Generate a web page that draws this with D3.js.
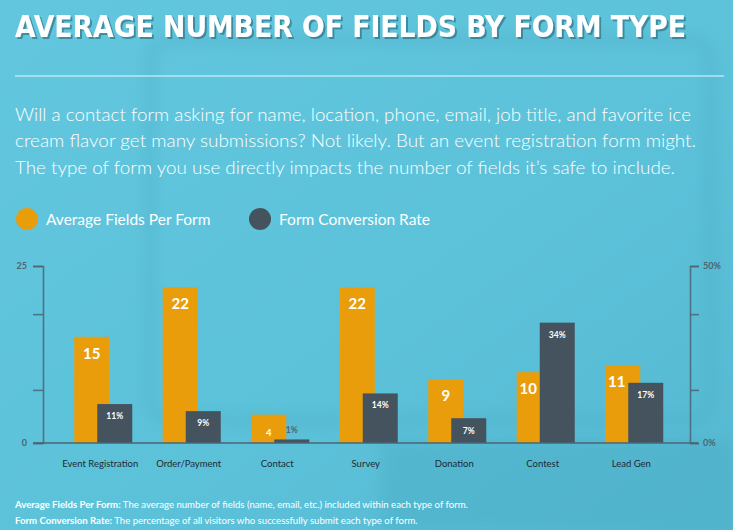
<!DOCTYPE html>
<html>
<head>
<meta charset="utf-8">
<script src="https://cdn.jsdelivr.net/npm/d3@7"></script>
<style>
  html, body { margin: 0; padding: 0; background: #5cc3db; }
  svg { display: block; }
</style>
</head>
<body>
<svg id="chart" width="733" height="530"></svg>
<script>
// ---- data ----
const categories = ["Event Registration", "Order/Payment", "Contact", "Survey", "Donation", "Contest", "Lead Gen"];
const avgFields = [15, 22, 4, 22, 9, 10, 11];
const conversionRate = [11, 9, 1, 14, 7, 34, 17];
const leftTickValues = [0, 7.5, 18.2, 25];
const leftTickLabels = { 0: "0", 25: "25" };
const rightTickValues = [0, 15, 36.4, 50];
const rightTickLabels = { 0: "0%", 50: "50%" };
const seriesNames = ["Average Fields Per Form", "Form Conversion Rate"];
const titleText = "AVERAGE NUMBER OF FIELDS BY FORM TYPE";
const introLines = [
  "Will a contact form asking for name, location, phone, email, job title, and favorite ice",
  "cream flavor get many submissions? Not likely. But an event registration form might.",
  "The type of form you use directly impacts the number of fields it\u2019s safe to include."
];
const footnotes = [
  ["Average Fields Per Form:", " The average number of fields (name, email, etc.) included within each type of form."],
  ["Form Conversion Rate:", " The percentage of all visitors who successfully submit each type of form."]
];

// ---- style ----
const ORANGE = "#ea9d0a";
const DARK = "#45535e";
const AXIS = "#4d6472";
const FONT = "Lato, 'Open Sans', sans-serif";

const svg = d3.select("#chart");
const W = 733, H = 530;

// background
const defs = svg.append("defs");
const bg = defs.append("linearGradient").attr("id", "bg").attr("x1", 0).attr("y1", 0).attr("x2", 1).attr("y2", 1);
bg.append("stop").attr("offset", "0%").attr("stop-color", "#62c7de");
bg.append("stop").attr("offset", "55%").attr("stop-color", "#5cc2da");
bg.append("stop").attr("offset", "100%").attr("stop-color", "#55b8d1");
svg.append("rect").attr("width", W).attr("height", H).attr("fill", "url(#bg)");
const blur = defs.append("filter").attr("id", "blur").attr("x", "-20%").attr("y", "-20%").attr("width", "140%").attr("height", "140%");
blur.append("feGaussianBlur").attr("stdDeviation", 6);
svg.append("rect").attr("x", 150).attr("y", 40).attr("width", 560).attr("height", 380).attr("rx", 20)
  .attr("fill", "none").attr("stroke", "#4fb0c9").attr("stroke-width", 14).attr("opacity", 0.35).attr("filter", "url(#blur)");
svg.append("rect").attr("x", 380).attr("y", 440).attr("width", 353).attr("height", 90)
  .attr("fill", "#4aaac3").attr("opacity", 0.35).attr("filter", "url(#blur)");

// title shadow filter
const sh = defs.append("filter").attr("id", "tshadow").attr("x", "-5%").attr("y", "-30%").attr("width", "110%").attr("height", "160%");
sh.append("feDropShadow").attr("dx", 2).attr("dy", 2).attr("stdDeviation", 0.6)
  .attr("flood-color", "#1e4658").attr("flood-opacity", 0.45);

svg.append("text").attr("x", 15).attr("y", 36.5).text(titleText)
  .attr("font-family", "'DejaVu Sans Condensed', 'Liberation Sans Narrow', sans-serif")
  .attr("font-weight", "bold").attr("font-size", 30).attr("fill", "#ffffff")
  .attr("textLength", 671).attr("lengthAdjust", "spacingAndGlyphs")
  .attr("filter", "url(#tshadow)");

// separator
svg.append("line").attr("x1", 15).attr("x2", 724).attr("y1", 76).attr("y2", 76)
  .attr("stroke", "#eaf8fc").attr("stroke-width", 1.2);

// intro
const introLengths = [676, 681, 660];
svg.append("g").selectAll("text").data(introLines).join("text")
  .attr("x", 15).attr("y", (d, i) => 120.5 + i * 26.8)
  .attr("font-family", FONT).attr("font-weight", 300).attr("font-size", 18.5)
  .attr("fill", "#ffffff")
  .attr("textLength", (d, i) => introLengths[i]).attr("lengthAdjust", "spacingAndGlyphs")
  .text(d => d);

// legend
const legendColors = [ORANGE, DARK];
const legendX = [27, 260];
const lg = svg.append("g").selectAll("g").data(seriesNames).join("g")
  .attr("transform", (d, i) => `translate(${legendX[i]},219)`);
lg.append("circle").attr("r", 11).attr("fill", (d, i) => legendColors[i]);
lg.append("text").attr("x", 19).attr("y", 5.5).attr("font-family", FONT).attr("font-size", 15.5)
  .attr("fill", "#ffffff").text(d => d);

// scales
const y0 = 443, yTop = 266;
const x = d3.scaleBand().domain(categories).range([59, 678.5]).padding(0);
const yL = d3.scaleLinear().domain([0, 25]).range([y0, yTop]);
const yR = d3.scaleLinear().domain([0, 50]).range([y0, yTop]);
const barW = 35, offsetO = -29, offsetD = -6;
const cx = c => x(c) + x.bandwidth() / 2;

// axes
const leftAxis = d3.axisLeft(yL).tickValues(leftTickValues).tickSize(10)
  .tickFormat(d => leftTickLabels[d] || "");
const gl = svg.append("g").attr("transform", "translate(43,0)").call(leftAxis);
const rightAxis = d3.axisRight(yR).tickValues(rightTickValues).tickSize(9)
  .tickFormat(d => rightTickLabels[d] || "");
const gr = svg.append("g").attr("transform", "translate(690,0)").call(rightAxis);
[gl, gr].forEach(g => {
  g.select(".domain").attr("stroke", AXIS).attr("stroke-width", 1.6).attr("opacity", 0.85);
  g.selectAll(".tick line").attr("stroke", AXIS).attr("stroke-width", 1.6).attr("opacity", 0.85);
  g.selectAll(".tick text").attr("font-family", FONT).attr("font-weight", "bold")
    .attr("font-size", 9).attr("fill", AXIS);
});
gl.selectAll(".tick text").attr("x", -16);
gr.selectAll(".tick text").attr("x", 13);

const data = categories.map((c, i) => ({ c, f: avgFields[i], r: conversionRate[i] }));

// orange bars
svg.append("g").selectAll("rect").data(data).join("rect")
  .attr("x", d => cx(d.c) + offsetO).attr("width", barW)
  .attr("y", d => yL(d.f)).attr("height", d => y0 - yL(d.f))
  .attr("fill", ORANGE);
// dark bars
svg.append("g").selectAll("rect").data(data).join("rect")
  .attr("x", d => cx(d.c) + offsetD).attr("width", barW)
  .attr("y", d => yR(d.r)).attr("height", d => y0 - yR(d.r))
  .attr("fill", DARK);

// baseline
svg.append("line").attr("x1", 33).attr("x2", 698).attr("y1", y0).attr("y2", y0)
  .attr("stroke", "#4a6575").attr("stroke-width", 2).attr("opacity", 0.75);

// orange labels
const small = d => (y0 - yL(d.f)) < 40;
const orangeLabelY = d => {
  const h = y0 - yL(d.f);
  return small(d) ? yL(d.f) + h / 2 + 7 : yL(d.f) + 22;
};
svg.append("g").selectAll("text").data(data).join("text")
  .attr("x", d => {
    const ox = cx(d.c) + offsetO;
    // centre in the visible part of the orange bar if the dark bar reaches the label
    return (!small(d) && yR(d.r) < orangeLabelY(d) + 3) ? ox + (offsetD - offsetO) / 2 : ox + barW / 2;
  })
  .attr("y", orangeLabelY)
  .attr("text-anchor", "middle").attr("font-family", FONT).attr("font-weight", "bold")
  .attr("font-size", d => small(d) ? 9.5 : 15).attr("fill", "#ffffff")
  .text(d => d.f);

// dark labels
svg.append("g").selectAll("text").data(data).join("text")
  .attr("x", d => cx(d.c) + offsetD + barW / 2)
  .attr("y", d => {
    const h = y0 - yR(d.r);
    if (h < 10) return yR(d.r) - 6;
    return h < 30 ? yR(d.r) + h / 2 + 3.5 : yR(d.r) + 15;
  })
  .attr("text-anchor", "middle").attr("font-family", FONT).attr("font-weight", "bold")
  .attr("font-size", 8.5)
  .attr("fill", d => (y0 - yR(d.r)) < 10 ? "#4d6472" : "#ffffff")
  .text(d => d.r + "%");

// category labels
svg.append("g").selectAll("text").data(categories).join("text")
  .attr("x", d => cx(d) - 3).attr("y", 467)
  .attr("text-anchor", "middle").attr("font-family", FONT).attr("font-size", 9.5)
  .attr("fill", "#1c2a35").text(d => d);

// footnotes
const fn = svg.append("g").selectAll("text").data(footnotes).join("text")
  .attr("x", 15).attr("y", (d, i) => 507.5 + i * 16.8)
  .attr("font-family", FONT).attr("font-size", 9.6).attr("fill", "#ffffff");
fn.append("tspan").attr("font-weight", "bold").text(d => d[0]);
fn.append("tspan").text(d => d[1]);
</script>
</body>
</html>
